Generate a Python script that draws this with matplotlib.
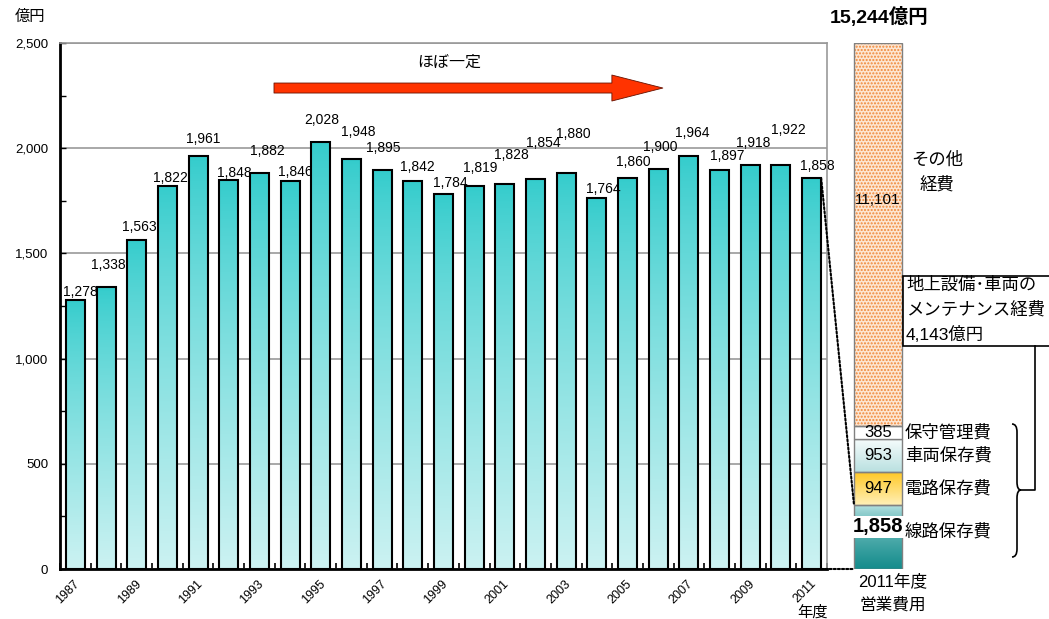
import numpy as np
import matplotlib
matplotlib.use("Agg")
from matplotlib import pyplot as plt, colors
from matplotlib.patches import Rectangle, FancyArrowPatch, PathPatch, ConnectionPatch
from matplotlib.lines import Line2D
from matplotlib.path import Path
from matplotlib.transforms import Affine2D

plt.rcParams['font.family'] = ['Liberation Sans', 'Noto Sans CJK JP']

# data
years = list(range(1987, 2012))
costs = [1278, 1338, 1563, 1822, 1961, 1848, 1882, 1846, 2028, 1948, 1895, 1842,
         1784, 1819, 1828, 1854, 1880, 1764, 1860, 1900, 1964, 1897, 1918, 1922, 1858]
seg_names = ["線路保存費", "電路保存費", "車両保存費", "保守管理費", "その他経費"]
seg_values = [1858, 947, 953, 385, 11101]
total = sum(seg_values)
maint_total = sum(seg_values[:4])

# label offsets above bars (pixels)
lbl_dx = [5, 2, 3, 3, 5, 6, 8, 5, 1, 7, 1, 5, 6.5, 6, 7, 7.5, 7, 6, 5.5, 2, 3, 7.5, 3, 7, 6]
lbl_dy = [8, 22.5, 13, 8, 17, 7, 22, 8.6, 22, 27, 22, 14, 10.6, 18, 29, 36, 39, 9, 16, 22, 23,
          14, 22.5, 34.6, 12]

W, H = 1049, 619
fig = plt.figure(figsize=(W / 100, H / 100), dpi=100)
px = Affine2D().scale(1 / W, -1 / H).translate(0, 1) + fig.transFigure


def grad_fill(axis, patch, top, bottom, gamma=1.0):
    x0, y0 = patch.get_x(), patch.get_y()
    w, h = patch.get_width(), patch.get_height()
    t = np.linspace(0, 1, 256) ** gamma
    c0 = np.array(colors.to_rgb(top))
    c1 = np.array(colors.to_rgb(bottom))
    img = c0[None, :] + (c1 - c0)[None, :] * t[:, None]
    im = axis.imshow(img[:, None, :], extent=[x0, x0 + w, y0, y0 + h],
                     aspect='auto', origin='upper', zorder=2, interpolation='bilinear')
    im.set_clip_path(patch)


# main chart
ax = fig.add_axes([60 / W, 50 / H, 767 / W, 526 / H])
xs = np.arange(len(years))
bars = ax.bar(xs, costs, width=0.62, facecolor='none', edgecolor='black', linewidth=1.5, zorder=3)
for b in bars:
    grad_fill(ax, b, '#33CCCC', '#CCF2F2', gamma=0.8)

for i, v in enumerate(costs):
    ax.annotate(f"{v:,}", (xs[i], v), xytext=(lbl_dx[i] * 0.72, lbl_dy[i] * 0.72),
                textcoords='offset points', ha='center', va='center', fontsize=10, zorder=4)

ax.set_xlim(-0.5, len(years) - 0.5)
ax.set_ylim(0, 2500)
ax.set_yticks(np.arange(0, 2501, 500))
ax.set_yticklabels([f"{v:,}" for v in range(0, 2501, 500)], fontsize=9.5)
ax.set_yticks(np.arange(0, 2501, 250), minor=True)
ax.tick_params(axis='y', which='both', direction='in', length=4, width=1, pad=8.5)
ax.set_xticks(np.arange(-0.5, len(years), 1))
ax.set_xticklabels([])
ax.tick_params(axis='x', which='major', direction='in', length=4, width=1.2)
ax.yaxis.grid(True, color='#999999', linewidth=1.2)
ax.set_axisbelow(True)
for s in ['left', 'bottom']:
    ax.spines[s].set_linewidth(2)
for s in ['top', 'right']:
    ax.spines[s].set_color('#999999')
    ax.spines[s].set_linewidth(1.2)

for i in range(0, len(years), 2):
    ax.text(xs[i] + 0.22, -0.017, str(years[i]), transform=ax.get_xaxis_transform(),
            rotation=45, ha='right', va='top', fontsize=9)

arrow = FancyArrowPatch((6.475, 2286), (19.15, 2286),
                        arrowstyle='simple,head_length=36.7,head_width=18.7,tail_width=7.2',
                        mutation_scale=1, facecolor='#FF3300', edgecolor='#661100',
                        linewidth=0.6, shrinkA=0, shrinkB=0, zorder=5)
ax.add_patch(arrow)
ax.text(12.2, 2410, "ほぼ一定", ha='center', va='center', fontsize=11.5)

fig.text(30, 17, "億円", transform=px, ha='center', va='center', fontsize=11)
fig.text(812, 612, "年度", transform=px, ha='center', va='center', fontsize=11)

# right stacked bar
ax2 = fig.add_axes([828 / W, 50 / H, 221 / W, 526 / H])
ax2.set_axis_off()
bx, bw = 0.2262, 0.2172
bottoms = np.concatenate([[0], np.cumsum(seg_values)[:-1]])
seg_bars = ax2.bar([bx] * 5, seg_values, width=bw, bottom=bottoms,
                   facecolor='none', edgecolor='#808080', linewidth=1, zorder=3)
grad_fill(ax2, seg_bars[0], '#C8ECEC', '#148C8C', gamma=0.6)
grad_fill(ax2, seg_bars[1], '#FFC825', '#FFF0B8')
grad_fill(ax2, seg_bars[2], '#F6FCFC', '#B9E0E0')
seg_bars[3].set_facecolor('white')
other = Rectangle((bx - bw / 2, bottoms[4]), bw, seg_values[4], facecolor='#FDE6D2',
                  edgecolor='#F08838', hatch='.....', linewidth=0, zorder=2)
ax2.add_patch(other)
ax2.set_xlim(0, 1)
ax2.set_ylim(0, total)

mids = bottoms + np.array(seg_values) / 2
ax2.text(bx, mids[0] + 300, f"{seg_values[0]:,}", ha='center', va='center', fontsize=14.5,
         fontweight='bold', zorder=5,
         bbox=dict(facecolor='white', edgecolor='none', pad=1))
for k in (1, 2, 3):
    ax2.text(bx, mids[k], f"{seg_values[k]:,}", ha='center', va='center', fontsize=12, zorder=5)
ax2.text(bx, mids[4] + 1000, f"{seg_values[4]:,}", ha='center', va='center', fontsize=11,
         zorder=5)
name_y = [mids[0] + 150, mids[1], mids[2], mids[3]]
for k in range(4):
    ax2.text(0.348, name_y[k], seg_names[k], ha='left', va='center', fontsize=12.5)

fig.text(879, 17, f"{total:,}億円", transform=px, ha='center', va='center',
         fontsize=14, fontweight='bold')
fig.text(937, 160, "その他", transform=px, ha='center', va='center', fontsize=12.5)
fig.text(937, 184, "経費", transform=px, ha='center', va='center', fontsize=12.5)
fig.text(893, 581, "2011年度", transform=px, ha='center', va='center', fontsize=12)
fig.text(893, 605, "営業費用", transform=px, ha='center', va='center', fontsize=12)

# callout box
fig.add_artist(Rectangle((903, 276), 170, 70, transform=px, facecolor='white',
                         edgecolor='black', linewidth=1.2))
box_lines = ["地上設備･車両の", "メンテナンス経費", f"{maint_total:,}億円"]
for j, s in enumerate(box_lines):
    fig.text(906, 285 + 24.5 * j, s, transform=px, ha='left', va='center', fontsize=12.5)
fig.add_artist(Line2D([1035, 1035, 1021], [346, 490, 490], transform=px,
                      color='black', linewidth=1.2))
brace = Path([(1012, 424), (1017, 424), (1017, 432), (1017, 482), (1017, 490), (1021, 490),
              (1017, 490), (1017, 498), (1017, 549), (1017, 557), (1012, 557)],
             [Path.MOVETO, Path.CURVE3, Path.CURVE3, Path.LINETO, Path.CURVE3, Path.CURVE3,
              Path.CURVE3, Path.CURVE3, Path.LINETO, Path.CURVE3, Path.CURVE3])
fig.add_artist(PathPatch(brace, transform=px, fill=False, edgecolor='black', linewidth=1.2))

# dotted connectors from the 2011 bar to the track-maintenance segment
for ya, yb in ((costs[-1], seg_values[0]), (0, 0)):
    con = ConnectionPatch(xyA=(xs[-1] + 0.31, ya), coordsA=ax.transData,
                          xyB=(bx - bw / 2, yb), coordsB=ax2.transData,
                          linestyle=(0, (1, 1)), color='black', linewidth=1.5, zorder=6)
    fig.add_artist(con)

fig.savefig("out.png", dpi=100)
